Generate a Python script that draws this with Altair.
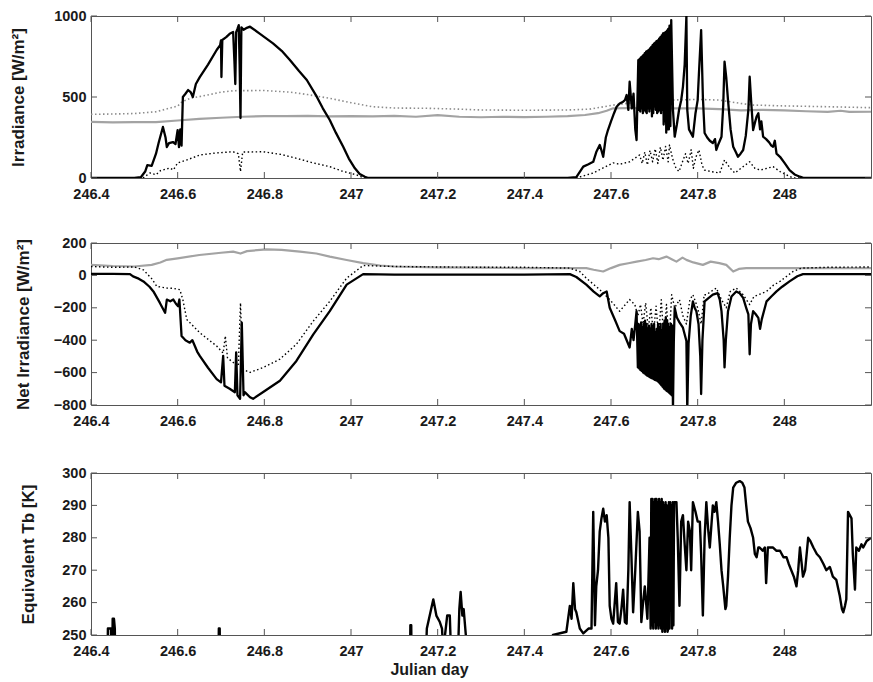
import altair as alt
import pandas as pd

FONT = "Liberation Sans, Arial, Helvetica, sans-serif"
W, H = 780, 162
XDOM = [246.4, 248.2]
x_ticks = [246.4, 246.6, 246.8, 247.0, 247.2, 247.4, 247.6, 247.8, 248.0]

# ---------------- Panel 1: Irradiance ----------------
p1_total = [
    (246.40, 0), (246.45, 0), (246.50, 0), (246.515, 5), (246.525, 40), (246.53, 80), (246.54, 75),
    (246.55, 150), (246.556, 216), (246.566, 315), (246.572, 250), (246.575, 191), (246.58, 215),
    (246.589, 222), (246.595, 210), (246.60, 296), (246.603, 190), (246.606, 300), (246.609, 200),
    (246.612, 500), (246.618, 520), (246.624, 543), (246.63, 530), (246.635, 500), (246.642, 580),
    (246.651, 623), (246.67, 700), (246.69, 790), (246.698, 820), (246.700, 850), (246.701, 623),
    (246.703, 852), (246.712, 870), (246.72, 890), (246.728, 901), (246.731, 720), (246.733, 580),
    (246.735, 900), (246.738, 920), (246.741, 944), (246.743, 700), (246.745, 370), (246.747, 930),
    (246.752, 915), (246.758, 925), (246.767, 934), (246.79, 890), (246.82, 831), (246.84, 785),
    (246.859, 728), (246.88, 660), (246.898, 605), (246.921, 502), (246.935, 430), (246.951, 358),
    (246.965, 280), (246.982, 193), (246.995, 120), (247.009, 60), (247.02, 25), (247.032, 8),
    (247.04, 0), (247.2, 0), (247.4, 0), (247.5, 0), (247.52, 5), (247.536, 70), (247.548, 85),
    (247.559, 100), (247.566, 160), (247.574, 204), (247.578, 170), (247.582, 131), (247.588, 250),
    (247.593, 296), (247.60, 350), (247.607, 400), (247.613, 440), (247.62, 460), (247.628, 471),
    (247.632, 480), (247.636, 512), (247.640, 420), (247.643, 594), (247.648, 430), (247.652, 520),
    (247.656, 300), (247.659, 234), (247.663, 728),
    (247.6645, 420), (247.666, 735), (247.6675, 410), (247.669, 745), (247.6705, 430), (247.672, 750),
    (247.6735, 400), (247.675, 760), (247.6765, 420), (247.678, 770), (247.6795, 410), (247.681, 780),
    (247.6825, 400), (247.684, 785), (247.6855, 430), (247.687, 790), (247.6885, 410), (247.690, 800),
    (247.6915, 430), (247.693, 810), (247.6945, 380), (247.696, 820), (247.6975, 400), (247.699, 830),
    (247.7005, 440), (247.702, 835), (247.7035, 420), (247.705, 845), (247.7065, 400), (247.708, 850),
    (247.7095, 410), (247.711, 860), (247.7125, 420), (247.714, 870), (247.7155, 400), (247.717, 880),
    (247.7185, 420), (247.720, 893), (247.7215, 330), (247.723, 895), (247.7245, 350), (247.726, 900),
    (247.7275, 280), (247.729, 910), (247.7305, 300), (247.732, 920), (247.7335, 300), (247.735, 940),
    (247.737, 320), (247.739, 975), (247.743, 420), (247.747, 255),
    (247.752, 330), (247.757, 420), (247.762, 480), (247.766, 563), (247.770, 700), (247.774, 1000),
    (247.776, 420), (247.780, 300), (247.784, 280), (247.789, 255), (247.795, 400), (247.80, 481),
    (247.803, 650), (247.808, 913), (247.812, 500), (247.816, 278), (247.822, 250), (247.828, 230),
    (247.835, 216), (247.840, 240), (247.843, 173), (247.848, 210), (247.855, 255), (247.859, 450),
    (247.862, 718), (247.866, 620), (247.870, 481), (247.876, 300), (247.882, 193), (247.888, 160),
    (247.893, 131), (247.899, 150), (247.905, 173), (247.911, 260), (247.917, 420), (247.920, 625),
    (247.924, 450), (247.928, 296), (247.932, 340), (247.936, 380), (247.940, 400), (247.944, 300),
    (247.947, 350), (247.951, 255), (247.958, 240), (247.965, 220), (247.970, 200), (247.974, 193),
    (247.978, 230), (247.982, 150), (247.99, 131), (248.0, 95), (248.012, 49), (248.025, 20),
    (248.036, 8), (248.045, 0), (248.2, 0),
]
p1_lw = [
    (246.40, 347), (246.45, 343), (246.50, 345), (246.55, 345), (246.60, 355), (246.65, 365),
    (246.70, 372), (246.75, 378), (246.80, 382), (246.85, 382), (246.90, 384), (246.95, 380),
    (247.00, 382), (247.05, 380), (247.10, 383), (247.15, 378), (247.20, 388), (247.25, 378),
    (247.30, 375), (247.35, 378), (247.40, 376), (247.45, 378), (247.50, 382), (247.54, 389),
    (247.57, 400), (247.59, 415), (247.605, 430), (247.65, 432), (247.70, 428), (247.75, 430),
    (247.80, 430), (247.85, 425), (247.90, 418), (247.95, 420), (248.00, 418), (248.05, 412),
    (248.10, 408), (248.13, 415), (248.15, 408), (248.2, 409),
]
p1_dotted_gray = [
    (246.40, 393), (246.45, 395), (246.50, 398), (246.55, 409), (246.60, 444), (246.61, 470),
    (246.63, 493), (246.65, 502), (246.70, 530), (246.73, 539), (246.80, 540), (246.86, 530),
    (246.90, 515), (246.95, 492), (247.00, 465), (247.05, 440), (247.10, 432), (247.18, 430),
    (247.25, 425), (247.30, 420), (247.40, 418), (247.50, 420), (247.55, 425), (247.605, 450),
    (247.65, 465), (247.70, 477), (247.75, 482), (247.80, 485), (247.85, 481), (247.90, 460),
    (247.93, 450), (248.00, 445), (248.10, 440), (248.2, 434),
]
p1_dotted_black = [
    (246.40, 0), (246.52, 0), (246.536, 31), (246.55, 20), (246.56, 45), (246.582, 62), (246.59, 50),
    (246.60, 93), (246.62, 110), (246.651, 142), (246.69, 155), (246.728, 162), (246.74, 150),
    (246.745, 40), (246.75, 160), (246.797, 162), (246.84, 145), (246.875, 121), (246.91, 95),
    (246.951, 70), (246.98, 42), (247.013, 19), (247.03, 0), (247.50, 0), (247.52, 0), (247.559, 31),
    (247.58, 60), (247.605, 93), (247.62, 85), (247.643, 100), (247.666, 142), (247.672, 90),
    (247.678, 160), (247.684, 80), (247.690, 170), (247.696, 100), (247.702, 180), (247.708, 90),
    (247.714, 190), (247.720, 110), (247.726, 195), (247.732, 100), (247.735, 204), (247.742, 120),
    (247.750, 60), (247.757, 40), (247.765, 100), (247.772, 150), (247.778, 90), (247.785, 175),
    (247.790, 60), (247.796, 130), (247.803, 173), (247.810, 80), (247.816, 49), (247.83, 40),
    (247.851, 31), (247.862, 111), (247.875, 60), (247.886, 31), (247.90, 60), (247.92, 100),
    (247.932, 60), (247.944, 49), (247.96, 60), (247.974, 70), (247.99, 40), (248.005, 19),
    (248.02, 0), (248.2, 0),
]

# ---------------- Panel 2: Net irradiance ----------------
p2_total = [
    (246.40, 10), (246.45, 10), (246.49, 8), (246.497, -6), (246.51, -20), (246.521, -37),
    (246.535, -70), (246.544, -99), (246.559, -170), (246.571, -231), (246.575, -149), (246.583, -160),
    (246.59, -149), (246.596, -175), (246.601, -190), (246.604, -149), (246.609, -374), (246.618, -400),
    (246.628, -415), (246.634, -400), (246.645, -470), (246.651, -497), (246.67, -570), (246.69, -640),
    (246.70, -660), (246.705, -497), (246.708, -681), (246.72, -700), (246.732, -721), (246.735, -475),
    (246.738, -740), (246.744, -762), (246.748, -292), (246.752, -740), (246.755, -721), (246.767, -752),
    (246.774, -762), (246.80, -715), (246.836, -650), (246.874, -528), (246.913, -364), (246.951, -221),
    (246.99, -57), (247.028, 8), (247.1, 5), (247.2, 5), (247.3, 5), (247.4, 5), (247.505, 8),
    (247.52, -10), (247.543, -57), (247.56, -100), (247.574, -129), (247.582, -110), (247.59, -99),
    (247.597, -200), (247.61, -280), (247.62, -344), (247.63, -360), (247.643, -445), (247.648, -330),
    (247.652, -400), (247.656, -300), (247.659, -221), (247.662, -568),
    (247.6635, -300), (247.665, -575), (247.6665, -310), (247.668, -585), (247.6695, -290), (247.671, -590),
    (247.6725, -320), (247.674, -600), (247.6755, -300), (247.677, -605), (247.6785, -280), (247.680, -612),
    (247.6815, -300), (247.683, -618), (247.6845, -330), (247.686, -622), (247.6875, -310), (247.689, -628),
    (247.6905, -330), (247.692, -632), (247.6935, -300), (247.695, -636), (247.6965, -320), (247.698, -640),
    (247.6995, -300), (247.701, -645), (247.7025, -350), (247.704, -648), (247.7055, -330), (247.707, -652),
    (247.7085, -300), (247.710, -660), (247.7115, -320), (247.713, -668), (247.7145, -300), (247.716, -678),
    (247.7175, -340), (247.719, -688), (247.7205, -300), (247.722, -698), (247.7235, -280), (247.725, -705),
    (247.7265, -260), (247.728, -712), (247.7295, -280), (247.731, -718), (247.7325, -300), (247.734, -725),
    (247.7355, -320), (247.737, -732), (247.7385, -300), (247.740, -740), (247.7415, -310), (247.743, -830),
    (247.745, -400), (247.747, -200), (247.752, -260), (247.758, -290), (247.766, -323),
    (247.774, -405), (247.776, -830), (247.779, -420), (247.784, -250), (247.789, -160), (247.793, -200),
    (247.797, -221), (247.802, -300), (247.806, -500), (247.808, -732), (247.811, -400), (247.816, -160),
    (247.825, -140), (247.835, -119), (247.846, -109), (247.851, -150), (247.855, -221), (247.860, -400),
    (247.862, -568), (247.865, -400), (247.87, -221), (247.878, -130), (247.889, -99), (247.897, -110),
    (247.905, -139), (247.912, -200), (247.917, -241), (247.920, -487), (247.923, -300), (247.928, -221),
    (247.934, -240), (247.940, -262), (247.944, -330), (247.948, -270), (247.959, -160), (247.97, -130),
    (247.982, -99), (247.995, -70), (248.012, -37), (248.03, -5), (248.043, 8), (248.1, 8), (248.2, 8),
]
p2_lw = [
    (246.40, 65), (246.45, 58), (246.50, 55), (246.54, 65), (246.56, 80), (246.575, 96), (246.60, 105),
    (246.65, 126), (246.70, 140), (246.728, 147), (246.745, 135), (246.76, 150), (246.805, 161),
    (246.84, 158), (246.882, 147), (246.92, 135), (246.951, 116), (246.99, 95), (247.028, 76),
    (247.067, 61), (247.10, 55), (247.2, 50), (247.3, 48), (247.39, 45), (247.505, 45), (247.543, 45),
    (247.56, 35), (247.582, 24), (247.60, 45), (247.62, 65), (247.64, 75), (247.659, 85), (247.68, 95),
    (247.697, 106), (247.71, 100), (247.728, 116), (247.74, 100), (247.751, 85), (247.765, 110),
    (247.774, 96), (247.79, 80), (247.812, 65), (247.83, 85), (247.85, 76), (247.866, 65), (247.882, 24),
    (247.895, 40), (247.912, 45), (248.005, 45), (248.1, 45), (248.2, 45),
]
p2_dotted = [
    (246.40, 55), (246.45, 50), (246.50, 52), (246.521, 34), (246.54, -20), (246.552, -68), (246.575, -78),
    (246.59, -80), (246.605, -88), (246.612, -150), (246.621, -272), (246.651, -354), (246.69, -436),
    (246.705, -480), (246.71, -374), (246.715, -510), (246.728, -537), (246.74, -560), (246.745, -170),
    (246.75, -580), (246.767, -599), (246.798, -568), (246.836, -517), (246.874, -425), (246.913, -282),
    (246.951, -160), (246.99, -17), (247.028, 61), (247.1, 55), (247.2, 52), (247.3, 50), (247.4, 50),
    (247.505, 45), (247.528, 24), (247.543, -17), (247.574, -88), (247.597, -149), (247.62, -221),
    (247.643, -149), (247.655, -180), (247.662, -250), (247.668, -180), (247.674, -300), (247.680, -170),
    (247.686, -330), (247.692, -200), (247.698, -360), (247.704, -190), (247.710, -380), (247.716, -150),
    (247.722, -400), (247.728, -180), (247.734, -420), (247.740, -119), (247.747, -200), (247.758, -150),
    (247.766, -250), (247.774, -300), (247.782, -150), (247.789, -119), (247.80, -200), (247.808, -300),
    (247.815, -119), (247.82, -119), (247.843, -78), (247.855, -150), (247.866, -200), (247.875, -100),
    (247.889, -78), (247.905, -120), (247.92, -180), (247.93, -130), (247.959, -99), (247.975, -60),
    (247.99, -37), (248.02, 24), (248.04, 45), (248.1, 50), (248.2, 52),
]

# ---------------- Panel 3: Equivalent Tb ----------------
p3_tb = [
    (246.40, 240), (246.438, 240), (246.439, 252), (246.446, 252), (246.447, 240), (246.449, 240),
    (246.450, 255), (246.453, 255), (246.455, 252), (246.456, 240), (246.694, 240), (246.695, 252),
    (246.697, 252), (246.698, 240), (247.10, 240), (247.136, 240), (247.137, 253), (247.139, 253),
    (247.140, 240), (247.172, 240), (247.175, 252), (247.18, 255), (247.19, 261), (247.197, 256),
    (247.205, 254), (247.21, 252), (247.215, 240), (247.217, 250), (247.222, 256), (247.228, 256),
    (247.232, 240), (247.246, 240), (247.25, 258), (247.253, 263.3), (247.257, 256), (247.26, 258),
    (247.265, 250), (247.266, 240), (247.44, 240), (247.466, 250), (247.497, 251), (247.505, 259),
    (247.509, 255), (247.513, 266), (247.517, 258), (247.52, 257), (247.528, 252), (247.536, 250.5),
    (247.548, 252), (247.555, 252), (247.559, 288), (247.563, 253), (247.566, 265), (247.570, 270),
    (247.574, 282), (247.578, 286), (247.582, 289), (247.586, 285), (247.590, 287), (247.594, 280),
    (247.597, 259), (247.601, 255), (247.605, 253.5), (247.612, 266), (247.616, 254), (247.62, 253.5),
    (247.624, 258), (247.628, 264), (247.632, 254), (247.636, 253.5), (247.640, 270), (247.643, 291),
    (247.647, 275), (247.651, 257), (247.656, 270), (247.662, 288), (247.666, 282), (247.67, 254),
    (247.674, 260), (247.678, 265), (247.684, 255), (247.689, 280),
    (247.6915, 252), (247.693, 292), (247.6945, 253), (247.696, 292), (247.6975, 252), (247.699, 291),
    (247.7005, 254), (247.702, 292), (247.7035, 252), (247.705, 292), (247.7065, 253), (247.708, 291),
    (247.7095, 252), (247.711, 292), (247.7125, 253), (247.714, 291), (247.7155, 252), (247.717, 292),
    (247.7185, 251), (247.720, 291), (247.7215, 252), (247.723, 290), (247.7245, 251), (247.726, 291),
    (247.7275, 252), (247.729, 290), (247.7305, 251), (247.732, 252), (247.7335, 291), (247.735, 252),
    (247.7365, 291), (247.738, 260), (247.7395, 290), (247.741, 252), (247.7425, 291), (247.744, 253),
    (247.7455, 291), (247.747, 291), (247.751, 291), (247.754, 280),
    (247.758, 259), (247.762, 285), (247.766, 287), (247.770, 278), (247.774, 270), (247.778, 285),
    (247.782, 282), (247.785, 270), (247.789, 291), (247.795, 288), (247.800, 285), (247.805, 285),
    (247.808, 275), (247.812, 256), (247.816, 280), (247.82, 291), (247.824, 283), (247.828, 277),
    (247.835, 290), (247.839, 288), (247.843, 291), (247.847, 285), (247.851, 278), (247.855, 270),
    (247.859, 265), (247.864, 258), (247.866, 259), (247.870, 268), (247.874, 280), (247.878, 290),
    (247.882, 295.5), (247.889, 297), (247.897, 297.5), (247.903, 297), (247.908, 295.5), (247.912, 290),
    (247.916, 285), (247.922, 283), (247.928, 280), (247.932, 275), (247.936, 274), (247.940, 277),
    (247.943, 277), (247.95, 276), (247.955, 277), (247.958, 266), (247.962, 277), (247.968, 277),
    (247.974, 277), (247.982, 276), (247.99, 276), (247.998, 274), (248.005, 274), (248.010, 272),
    (248.016, 270), (248.022, 268), (248.028, 265), (248.032, 270), (248.036, 277), (248.040, 272),
    (248.043, 268), (248.048, 270), (248.055, 280), (248.06, 279), (248.067, 277), (248.075, 275),
    (248.082, 274), (248.09, 272), (248.097, 270), (248.105, 271), (248.112, 268), (248.12, 267),
    (248.128, 262), (248.133, 258), (248.136, 257), (248.14, 259), (248.143, 261), (248.147, 288),
    (248.151, 287), (248.155, 286), (248.158, 275), (248.163, 264), (248.166, 277), (248.172, 276),
    (248.178, 278), (248.182, 277), (248.19, 279), (248.2, 280),
]

p1_yticks = [0, 500, 1000]
p2_yticks = [-800, -600, -400, -200, 0, 200]
p3_yticks = [250, 260, 270, 280, 290, 300]

BLACK = "#000000"
GRAY = "#a3a3a3"
DGRAY = "#8c8c8c"


def to_df(pairs):
    return pd.DataFrame(pairs, columns=["day", "v"])


def panel(series, ydom, yticks, ytitle, title_x, xtitle=None):
    xs = alt.Scale(domain=XDOM, nice=False, zero=False)
    ys = alt.Scale(domain=ydom, nice=False, zero=False)
    xkw = dict(values=x_ticks, format=".4~g", labelFlush=False, title=xtitle, grid=False,
               labelPadding=9)
    if xtitle:
        xkw.update(titleX=338, titlePadding=4, titleFontSize=16)
    xaxis = alt.Axis(**xkw)
    yaxis = alt.Axis(values=yticks, title=ytitle, format="d", labelFlush=False, grid=False,
                     labelExpr="replace(datum.label, '-', '\u2212')",
                     titleX=title_x, titleBaseline="bottom")
    X = alt.X("day:Q", scale=xs, axis=xaxis)
    Y = alt.Y("v:Q", scale=ys, axis=yaxis)
    layers = []
    for pairs, color, width, dash in series:
        kw = dict(color=color, strokeWidth=width, clip=True, strokeJoin="round")
        if dash:
            kw["strokeDash"] = dash
        layers.append(alt.Chart(to_df(pairs)).mark_line(**kw).encode(x=X, y=Y))
    xt = pd.DataFrame({"day": x_ticks})
    yt = pd.DataFrame({"v": yticks})
    tc = "#555555"
    layers.append(alt.Chart(xt).mark_rule(color=tc, strokeWidth=1).encode(
        x=X, y=alt.value(H), y2=alt.value(H - 6)))
    layers.append(alt.Chart(xt).mark_rule(color=tc, strokeWidth=1).encode(
        x=X, y=alt.value(0), y2=alt.value(6)))
    layers.append(alt.Chart(yt).mark_rule(color=tc, strokeWidth=1).encode(
        y=Y, x=alt.value(0), x2=alt.value(6)))
    layers.append(alt.Chart(yt).mark_rule(color=tc, strokeWidth=1).encode(
        y=Y, x=alt.value(W - 6), x2=alt.value(W)))
    return alt.layer(*layers).properties(width=W, height=H)


c1 = panel([
    (p1_lw, GRAY, 2.2, None),
    (p1_dotted_gray, DGRAY, 1.6, [1.5, 2.5]),
    (p1_dotted_black, BLACK, 1.4, [1.5, 2.5]),
    (p1_total, BLACK, 2.3, None),
], [0, 1000], p1_yticks, "Irradiance [W/m²]", -64)

c2 = panel([
    (p2_lw, GRAY, 2.2, None),
    (p2_total, BLACK, 2.3, None),
    (p2_dotted, BLACK, 1.4, [1.5, 2.5]),
], [-800, 200], p2_yticks, "Net Irradiance [W/m²]", -59)

c3 = panel([
    (p3_tb, BLACK, 2.4, None),
], [250, 300], p3_yticks, "Equivalent Tb [K]", -54, xtitle="Julian day")

top = alt.vconcat(c1, c2, spacing=33)
chart = alt.vconcat(top, c3, spacing=36).properties(
    padding={"left": 8, "top": 7, "right": 0, "bottom": 0},
    background="white",
).configure_view(stroke="#555555", strokeWidth=1).configure_axis(
    domain=False, ticks=False, grid=False,
    labelFont=FONT, labelFontSize=14.5, labelFontWeight="bold", labelColor="#1a1a1a", labelPadding=5,
    titleFont=FONT, titleFontSize=17, titleFontWeight="bold", titleColor="#1a1a1a", titlePadding=6,
)

chart.save("out.html", embed_options={"renderer": "svg", "actions": False})
